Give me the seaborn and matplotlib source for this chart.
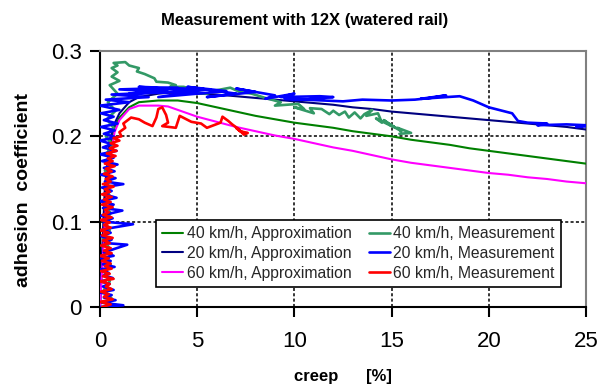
import matplotlib
matplotlib.use("Agg")
import matplotlib.pyplot as plt
import seaborn as sns
import pandas as pd

# ---------------- data ----------------
title = "Measurement with 12X (watered rail)"
x_label = "creep      [%]"
y_label = "adhesion  coefficient"
x_ticks = [0, 5, 10, 15, 20, 25]
y_ticks = [0, 0.1, 0.2, 0.3]
y_tick_labels = ["0", "0.1", "0.2", "0.3"]

approx_x = [0, 0.1, 0.25, 0.5, 0.75, 1.0, 1.5, 2, 3, 3.5, 4, 5, 6, 7, 8, 9, 10,
            11, 12, 13, 14, 15, 16, 17, 18, 19, 20, 21, 22, 23, 24, 25]
approx40_y = [0, 0.05, 0.12, 0.185, 0.21, 0.222, 0.234, 0.240, 0.242, 0.242, 0.242,
              0.239, 0.234, 0.229, 0.224, 0.220, 0.216, 0.213, 0.210, 0.206, 0.203,
              0.200, 0.196, 0.193, 0.190, 0.186, 0.183, 0.180, 0.177, 0.174, 0.171, 0.168]
approx20_y = [0, 0.06, 0.14, 0.195, 0.215, 0.227, 0.240, 0.246, 0.250, 0.251, 0.251,
              0.250, 0.249, 0.247, 0.245, 0.243, 0.241, 0.239, 0.237, 0.234, 0.232,
              0.229, 0.227, 0.225, 0.223, 0.221, 0.219, 0.217, 0.215, 0.213, 0.211, 0.208]
approx60_y = [0, 0.04, 0.10, 0.17, 0.205, 0.219, 0.232, 0.236, 0.236, 0.235, 0.231,
              0.223, 0.217, 0.211, 0.206, 0.201, 0.197, 0.192, 0.187, 0.183, 0.178,
              0.173, 0.169, 0.166, 0.163, 0.160, 0.157, 0.155, 0.152, 0.150, 0.147, 0.145]

# measured (creep, adhesion) points, in recording order
meas40_points = [
    (0.30, 0.000), (0.60, 0.010), (0.20, 0.020), (0.50, 0.030), (0.25, 0.040),
    (0.55, 0.050), (0.20, 0.060), (0.45, 0.070), (0.15, 0.080), (0.50, 0.090),
    (0.25, 0.100), (0.55, 0.110), (0.20, 0.120), (0.50, 0.130), (0.30, 0.140),
    (0.55, 0.150), (0.25, 0.160), (0.60, 0.170), (0.35, 0.180), (0.65, 0.190),
    (0.30, 0.200), (0.70, 0.210), (0.35, 0.220), (0.80, 0.230), (0.40, 0.240),
    (0.90, 0.250), (0.50, 0.260), (1.00, 0.265), (0.60, 0.270), (0.90, 0.275),
    (0.60, 0.280), (0.90, 0.283), (0.70, 0.286), (1.30, 0.287), (1.50, 0.283),
    (2.00, 0.280), (1.90, 0.276), (2.30, 0.273), (2.80, 0.268), (2.90, 0.264),
    (3.50, 0.263), (3.90, 0.260), (3.60, 0.258), (4.30, 0.258), (5.00, 0.254),
    (4.50, 0.252), (5.50, 0.250), (6.00, 0.254), (6.70, 0.257), (7.20, 0.252),
    (7.80, 0.250), (8.50, 0.245), (9.30, 0.240), (9.00, 0.236), (10.20, 0.238),
    (10.50, 0.232), (10.00, 0.234), (11.00, 0.227), (10.80, 0.233), (11.40, 0.232),
    (11.80, 0.226), (12.00, 0.230), (12.30, 0.225), (12.60, 0.229), (12.80, 0.222),
    (13.10, 0.228), (13.40, 0.221), (13.60, 0.226), (14.00, 0.231), (13.70, 0.224),
    (14.30, 0.227), (14.50, 0.216), (14.20, 0.221), (15.00, 0.212), (14.60, 0.219),
    (15.20, 0.210), (14.90, 0.214), (15.50, 0.206), (15.30, 0.210), (16.00, 0.204),
    (15.40, 0.203),
]

meas20_points = [
    (0.00, 0.000), (1.20, 0.002), (0.10, 0.005), (0.80, 0.008), (0.20, 0.011),
    (0.60, 0.014), (0.00, 0.017), (0.70, 0.020), (0.15, 0.024), (0.50, 0.027),
    (0.05, 0.030), (0.65, 0.034), (0.20, 0.037), (0.45, 0.040), (0.00, 0.044),
    (0.75, 0.047), (0.15, 0.050), (0.55, 0.054), (0.05, 0.057), (0.70, 0.060),
    (0.20, 0.064), (1.40, 0.073), (0.25, 0.075), (0.60, 0.079), (0.05, 0.083),
    (0.55, 0.087), (0.15, 0.091), (1.70, 0.097), (0.20, 0.100), (0.65, 0.104),
    (0.05, 0.107), (1.15, 0.113), (0.15, 0.116), (0.70, 0.120), (0.00, 0.124),
    (0.85, 0.128), (0.20, 0.132), (0.60, 0.136), (0.10, 0.140), (1.20, 0.144),
    (0.25, 0.147), (0.80, 0.151), (0.05, 0.155), (0.75, 0.159), (0.20, 0.163),
    (0.90, 0.167), (0.10, 0.171), (0.70, 0.175), (0.00, 0.179), (0.85, 0.183),
    (0.15, 0.187), (0.60, 0.191), (0.00, 0.195), (0.80, 0.199), (0.20, 0.203),
    (0.75, 0.207), (0.05, 0.211), (0.90, 0.215), (0.20, 0.219), (0.70, 0.223),
    (0.05, 0.227), (1.00, 0.231), (0.00, 0.236), (1.50, 0.240), (0.30, 0.243),
    (2.50, 0.246), (0.60, 0.249), (3.50, 0.252), (1.00, 0.255), (4.00, 0.257),
    (1.50, 0.250), (5.00, 0.253), (2.00, 0.258), (5.50, 0.255), (3.00, 0.246),
    (6.50, 0.253), (4.50, 0.258), (7.00, 0.250), (5.50, 0.246), (8.00, 0.252),
    (7.00, 0.256), (9.00, 0.248), (8.50, 0.244), (10.00, 0.250), (9.30, 0.246),
    (11.30, 0.247), (12.00, 0.246), (10.50, 0.243), (9.50, 0.244), (12.50, 0.241),
    (13.50, 0.243), (15.00, 0.242), (16.20, 0.243), (17.00, 0.245), (17.80, 0.248),
    (16.50, 0.244), (18.50, 0.247), (19.20, 0.242), (20.00, 0.234), (21.20, 0.227),
    (21.50, 0.218), (22.00, 0.216), (23.00, 0.215), (22.50, 0.213), (24.00, 0.214),
    (25.00, 0.213), (24.50, 0.211), (25.20, 0.212),
]

meas60_points = [
    (0.10, 0.000), (0.55, 0.003), (0.00, 0.006), (0.65, 0.009), (0.20, 0.012),
    (0.45, 0.015), (0.05, 0.018), (0.60, 0.021), (0.30, 0.024), (0.50, 0.027),
    (0.00, 0.030), (0.70, 0.033), (0.15, 0.036), (0.50, 0.039), (0.05, 0.042),
    (0.60, 0.045), (0.25, 0.048), (0.55, 0.051), (0.10, 0.054), (0.45, 0.057),
    (0.00, 0.060), (0.60, 0.063), (0.20, 0.066), (0.55, 0.069), (0.05, 0.072),
    (0.50, 0.075), (0.15, 0.078), (0.65, 0.081), (0.10, 0.084), (0.45, 0.087),
    (0.00, 0.090), (0.55, 0.093), (0.20, 0.096), (0.50, 0.099), (0.05, 0.102),
    (0.60, 0.105), (0.15, 0.108), (0.45, 0.111), (0.25, 0.114), (0.65, 0.117),
    (0.10, 0.120), (0.55, 0.123), (0.20, 0.126), (0.60, 0.129), (0.10, 0.132),
    (0.50, 0.135), (0.25, 0.138), (0.70, 0.141), (0.15, 0.144), (0.55, 0.147),
    (0.30, 0.150), (0.65, 0.153), (0.20, 0.156), (0.60, 0.159), (0.30, 0.162),
    (0.75, 0.165), (0.25, 0.168), (0.65, 0.171), (0.40, 0.174), (0.80, 0.177),
    (0.35, 0.180), (0.85, 0.183), (0.50, 0.186), (0.90, 0.189), (0.55, 0.192),
    (1.00, 0.195), (0.70, 0.198), (1.10, 0.200), (1.00, 0.205), (1.30, 0.210),
    (1.20, 0.215), (1.60, 0.222), (2.00, 0.220), (2.30, 0.216), (2.70, 0.212),
    (2.90, 0.222), (3.00, 0.232), (3.20, 0.234), (3.40, 0.225), (3.50, 0.216),
    (3.20, 0.212), (3.90, 0.210), (4.10, 0.224), (4.70, 0.217), (5.20, 0.215),
    (5.50, 0.210), (6.20, 0.216), (6.30, 0.223), (6.60, 0.218), (6.80, 0.214),
    (7.10, 0.209), (7.40, 0.202), (7.60, 0.204), (7.20, 0.206), (7.00, 0.210),
    (7.30, 0.205),
]

series = [
    ("40 km/h, Approximation", pd.DataFrame({"x": approx_x, "y": approx40_y}), "#008000", 1.5),
    ("20 km/h, Approximation", pd.DataFrame({"x": approx_x, "y": approx20_y}), "#000080", 1.5),
    ("60 km/h, Approximation", pd.DataFrame({"x": approx_x, "y": approx60_y}), "#FF00FF", 1.5),
    ("40 km/h, Measurement", pd.DataFrame(meas40_points, columns=["x", "y"]), "#339966", 1.9),
    ("20 km/h, Measurement", pd.DataFrame(meas20_points, columns=["x", "y"]), "#0000FF", 1.9),
    ("60 km/h, Measurement", pd.DataFrame(meas60_points, columns=["x", "y"]), "#FF0000", 1.9),
]

# ---------------- style ----------------
sns.set_theme(style="white")
plt.rcParams["font.family"] = ["Liberation Sans", "DejaVu Sans"]

fig = plt.figure(figsize=(6.04, 3.86), dpi=100)
ax = fig.add_axes([100 / 604, 1 - 307 / 386, 486 / 604, 256 / 386])

# grid (dashed, black)
for gx in [5, 10, 15, 20]:
    ax.axvline(gx, color="black", lw=1.1, ls=(0, (2, 1.5)), zorder=1)
for gy in [0.1, 0.2]:
    ax.axhline(gy, color="black", lw=1.1, ls=(0, (2, 1.5)), zorder=1)

for label, df, color, lw in series:
    sns.lineplot(data=df, x="x", y="y", sort=False, estimator=None, ax=ax,
                 color=color, lw=lw, label=label, zorder=3)

ax.set_xlim(0, 25)
ax.set_ylim(0, 0.3)
ax.set_xticks(x_ticks)
ax.set_xticklabels([str(t) for t in x_ticks])
ax.set_yticks(y_ticks)
ax.set_yticklabels(y_tick_labels)
ax.set_xlabel("")
ax.set_ylabel("")

for side in ["left", "bottom"]:
    ax.spines[side].set_color("black")
    ax.spines[side].set_linewidth(1.5)
for side in ["top", "right"]:
    ax.spines[side].set_color("#808080")
    ax.spines[side].set_linewidth(1.5)
    ax.spines[side].set_visible(True)

ax.tick_params(axis="both", which="major", direction="out", length=7, width=1.5,
               color="black", labelsize=16, labelcolor="black", bottom=True, left=True)
ax.tick_params(axis="x", pad=10)
ax.tick_params(axis="y", pad=6)

leg = ax.legend(ncol=2, loc="upper left", bbox_to_anchor=((156 - 100) / 486, (307 - 220) / 256),
                borderaxespad=0, fontsize=11.3, frameon=True, fancybox=False,
                framealpha=1, edgecolor="black", handlelength=1.35, handletextpad=0.2,
                columnspacing=1.1, labelspacing=0.3, borderpad=0.4)
leg.get_frame().set_linewidth(1.2)
leg.set_zorder(5)

fig.text(305 / 604, 1 - 21 / 386, title, ha="center", va="center",
         fontsize=12, fontweight="bold", color="black")
fig.text(24 / 604, 1 - 190 / 386, y_label, ha="center", va="center", rotation=90,
         fontsize=14, fontweight="bold", color="black")
fig.text(343 / 604, 1 - 377 / 386, x_label, ha="center", va="center",
         fontsize=12, fontweight="bold", color="black")

fig.savefig("out.png", dpi=100)
